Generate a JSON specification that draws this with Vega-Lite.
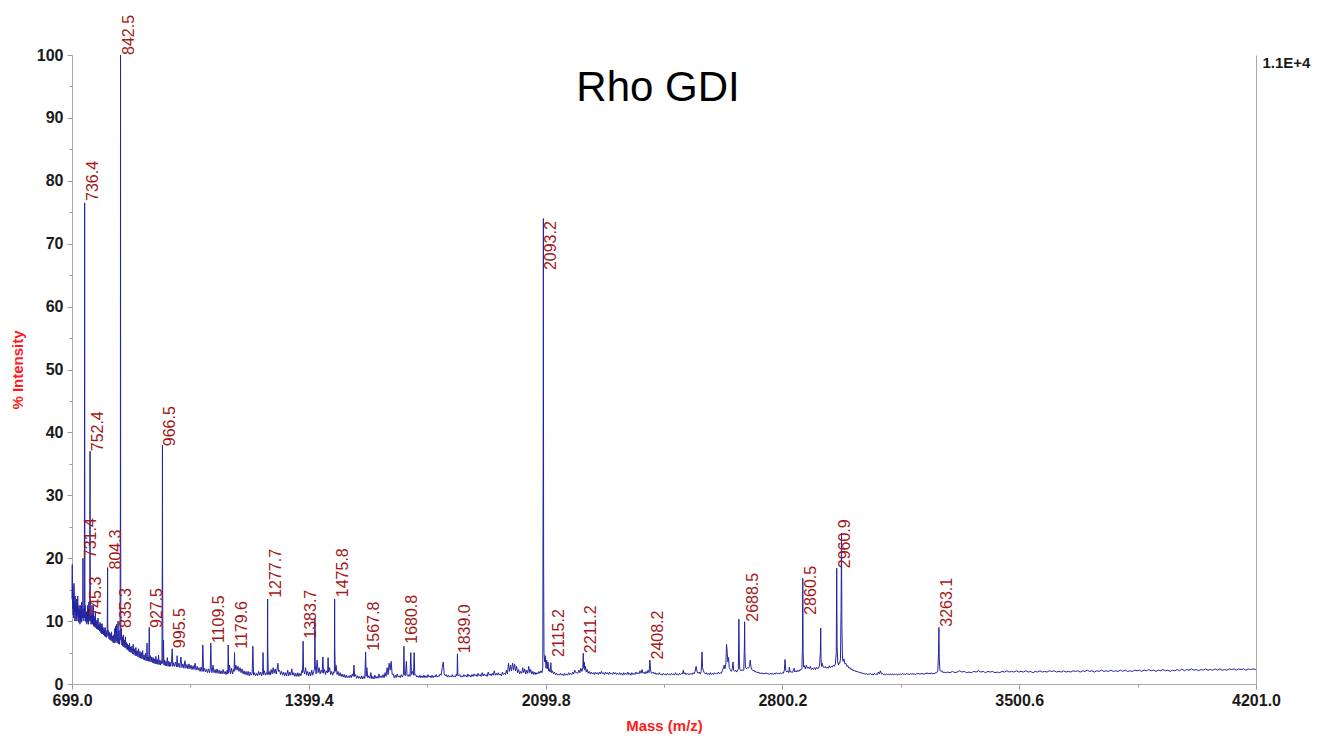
{
"$schema":"https://vega.github.io/schema/vega-lite/v6.json",
"width":1184,"height":629,
"autosize":"none",
"padding":{"left":72,"top":55,"right":77,"bottom":54},
"background":"white",
"config":{"view":{"stroke":null},"font":"Liberation Sans"},
"title":{"text":"Rho GDI","fontSize":42,"fontWeight":"normal","color":"black","font":"Liberation Sans","anchor":"middle","offset":-128,"baseline":"alphabetic","frame":"group","dx":-6},
"datasets":{
"spectrum":[
{"mz":699.0,"pct":13.5},{"mz":699.8,"pct":19},{"mz":700.6,"pct":12},{"mz":701.5,"pct":15.5},{"mz":702.3,"pct":11},{"mz":703.2,"pct":14.5},{"mz":704.0,"pct":10.5},{"mz":705.0,"pct":16},{"mz":705.8,"pct":11.5},{"mz":706.8,"pct":13},{"mz":707.6,"pct":10},{"mz":708.5,"pct":14},{"mz":709.4,"pct":11},{"mz":710.4,"pct":12.5},{"mz":711.3,"pct":10},{"mz":712.2,"pct":13.5},{"mz":713.1,"pct":10.5},{"mz":714.0,"pct":12},{"mz":715.0,"pct":11},{"mz":716.0,"pct":14},{"mz":716.9,"pct":10},{"mz":717.8,"pct":12},{"mz":718.8,"pct":9.8},{"mz":719.7,"pct":12.5},{"mz":720.6,"pct":10.5},{"mz":721.6,"pct":11.8},{"mz":722.5,"pct":9.5},{"mz":723.5,"pct":12.5},{"mz":724.4,"pct":10},{"mz":725.4,"pct":11.5},{"mz":726.3,"pct":9.8},{"mz":727.2,"pct":13},{"mz":728.1,"pct":10},{"mz":729.0,"pct":11},{"mz":730.0,"pct":10.5},{"mz":730.8,"pct":12},{"mz":731.4,"pct":20},{"mz":732.0,"pct":11},{"mz":733.0,"pct":12},{"mz":733.9,"pct":10},{"mz":734.8,"pct":11},{"mz":735.6,"pct":10.5},{"mz":736.0,"pct":46},{"mz":736.4,"pct":76.5},{"mz":736.8,"pct":37},{"mz":737.3,"pct":11},{"mz":738.2,"pct":12.5},{"mz":739.1,"pct":10},{"mz":740.0,"pct":11},{"mz":741.0,"pct":9.8},{"mz":741.9,"pct":11.5},{"mz":742.8,"pct":9.5},{"mz":743.7,"pct":11},{"mz":744.6,"pct":10},{"mz":745.3,"pct":12.5},{"mz":746.0,"pct":9.8},{"mz":747.0,"pct":12},{"mz":747.9,"pct":9.5},{"mz":748.8,"pct":13},{"mz":749.7,"pct":10},{"mz":750.6,"pct":11},{"mz":751.6,"pct":10.5},{"mz":752.0,"pct":26},{"mz":752.4,"pct":37},{"mz":752.8,"pct":20},{"mz":753.4,"pct":10},{"mz":754.3,"pct":11.5},{"mz":755.2,"pct":9.5},{"mz":756.2,"pct":11},{"mz":757.1,"pct":9.8},{"mz":758.0,"pct":12.5},{"mz":759.0,"pct":9.5},{"mz":760.0,"pct":11},{"mz":761.0,"pct":9.5},{"mz":762.0,"pct":12.5},{"mz":763.0,"pct":9.2},{"mz":764.0,"pct":10.8},{"mz":765.0,"pct":9.3},{"mz":766.0,"pct":10.5},{"mz":767.0,"pct":9},{"mz":768.0,"pct":11.5},{"mz":769.0,"pct":9},{"mz":770.0,"pct":10},{"mz":771.5,"pct":8.8},{"mz":773.0,"pct":10.2},{"mz":774.5,"pct":8.7},{"mz":776.0,"pct":10.5},{"mz":777.5,"pct":8.6},{"mz":779.0,"pct":9.5},{"mz":780.5,"pct":8.4},{"mz":782.0,"pct":9.8},{"mz":783.5,"pct":8.2},{"mz":785.0,"pct":9.5},{"mz":786.5,"pct":8},{"mz":788.0,"pct":9.6},{"mz":789.5,"pct":8},{"mz":791.0,"pct":9},{"mz":792.5,"pct":7.8},{"mz":794.0,"pct":8.8},{"mz":795.5,"pct":7.6},{"mz":797.0,"pct":9},{"mz":798.5,"pct":7.5},{"mz":800.0,"pct":8.5},{"mz":801.5,"pct":7.4},{"mz":803.0,"pct":8.2},{"mz":804.0,"pct":14.5},{"mz":804.3,"pct":18.5},{"mz":804.7,"pct":10},{"mz":805.5,"pct":7.6},{"mz":807.0,"pct":8.5},{"mz":808.5,"pct":7.2},{"mz":810.0,"pct":8.2},{"mz":811.5,"pct":7},{"mz":813.0,"pct":8},{"mz":814.5,"pct":6.9},{"mz":816.0,"pct":8.3},{"mz":817.5,"pct":6.8},{"mz":819.0,"pct":7.6},{"mz":820.5,"pct":6.6},{"mz":822.0,"pct":7.8},{"mz":823.5,"pct":6.5},{"mz":825.0,"pct":8.8},{"mz":826.5,"pct":6.6},{"mz":828.0,"pct":9.2},{"mz":829.5,"pct":6.8},{"mz":831.0,"pct":9.5},{"mz":832.5,"pct":6.5},{"mz":834.0,"pct":7.5},{"mz":835.3,"pct":10},{"mz":836.5,"pct":6.4},{"mz":838.0,"pct":8.5},{"mz":839.5,"pct":6.3},{"mz":841.0,"pct":7},{"mz":842.1,"pct":27.5},{"mz":842.5,"pct":100},{"mz":842.9,"pct":27.5},{"mz":843.6,"pct":7},{"mz":845.0,"pct":8.8},{"mz":846.5,"pct":6.2},{"mz":848.0,"pct":7.5},{"mz":849.5,"pct":6},{"mz":851.0,"pct":7.8},{"mz":852.5,"pct":5.9},{"mz":854.0,"pct":7},{"mz":855.5,"pct":5.8},{"mz":857.0,"pct":7.5},{"mz":858.5,"pct":5.7},{"mz":860.0,"pct":6.6},{"mz":861.5,"pct":5.5},{"mz":863.0,"pct":6.4},{"mz":864.5,"pct":5.4},{"mz":866.0,"pct":6.2},{"mz":867.5,"pct":5.2},{"mz":869.0,"pct":6.5},{"mz":870.5,"pct":5.1},{"mz":872.0,"pct":5.9},{"mz":874.0,"pct":5},{"mz":876.0,"pct":6},{"mz":878.0,"pct":4.8},{"mz":880.0,"pct":6.3},{"mz":882.0,"pct":4.7},{"mz":884.0,"pct":5.6},{"mz":886.0,"pct":4.5},{"mz":888.0,"pct":5.8},{"mz":890.0,"pct":4.5},{"mz":892.0,"pct":5.3},{"mz":894.0,"pct":4.3},{"mz":896.0,"pct":5.6},{"mz":898.0,"pct":4.2},{"mz":900.0,"pct":5.2},{"mz":902.0,"pct":4.1},{"mz":904.0,"pct":5},{"mz":906.0,"pct":4},{"mz":908.0,"pct":5.3},{"mz":910.0,"pct":3.9},{"mz":912.0,"pct":4.6},{"mz":914.0,"pct":3.8},{"mz":916.0,"pct":4.9},{"mz":918.0,"pct":3.7},{"mz":920.0,"pct":4.4},{"mz":921.0,"pct":6.5},{"mz":922.0,"pct":3.7},{"mz":924.0,"pct":4.3},{"mz":926.0,"pct":3.6},{"mz":927.5,"pct":9},{"mz":929.0,"pct":3.6},{"mz":931.0,"pct":4.5},{"mz":933.0,"pct":3.5},{"mz":935.0,"pct":4.3},{"mz":937.0,"pct":3.4},{"mz":939.0,"pct":4.2},{"mz":941.0,"pct":3.3},{"mz":943.0,"pct":4},{"mz":945.0,"pct":3.2},{"mz":947.0,"pct":4.4},{"mz":949.0,"pct":3.2},{"mz":951.0,"pct":3.9},{"mz":953.0,"pct":3.1},{"mz":955.0,"pct":4.6},{"mz":957.0,"pct":3.1},{"mz":959.0,"pct":3.8},{"mz":961.0,"pct":3},{"mz":963.0,"pct":3.7},{"mz":965.0,"pct":3.2},{"mz":966.1,"pct":20},{"mz":966.5,"pct":38},{"mz":966.9,"pct":20},{"mz":968.0,"pct":3.3},{"mz":969.5,"pct":7},{"mz":971.0,"pct":3},{"mz":973.0,"pct":3.8},{"mz":975.0,"pct":2.9},{"mz":977.0,"pct":3.6},{"mz":979.0,"pct":2.9},{"mz":981.0,"pct":4.2},{"mz":983.0,"pct":2.8},{"mz":985.0,"pct":3.6},{"mz":987.0,"pct":2.8},{"mz":989.0,"pct":3.5},{"mz":991.0,"pct":2.8},{"mz":993.0,"pct":3.4},{"mz":995.5,"pct":5.6},{"mz":997.0,"pct":2.8},{"mz":999.0,"pct":3.4},{"mz":1002.0,"pct":2.8},{"mz":1005.0,"pct":3.5},{"mz":1008.0,"pct":2.7},{"mz":1010.0,"pct":4.5},{"mz":1012.0,"pct":2.7},{"mz":1015.0,"pct":3.3},{"mz":1018.0,"pct":2.6},{"mz":1021.0,"pct":4.3},{"mz":1024.0,"pct":2.6},{"mz":1027.0,"pct":3.2},{"mz":1030.0,"pct":2.5},{"mz":1033.0,"pct":3.7},{"mz":1036.0,"pct":2.5},{"mz":1039.0,"pct":3.1},{"mz":1042.0,"pct":2.4},{"mz":1045.0,"pct":3.2},{"mz":1048.0,"pct":2.4},{"mz":1051.0,"pct":3},{"mz":1054.0,"pct":2.3},{"mz":1057.0,"pct":2.9},{"mz":1060.0,"pct":2.3},{"mz":1063.0,"pct":3.3},{"mz":1066.0,"pct":2.2},{"mz":1069.0,"pct":2.8},{"mz":1072.0,"pct":2.2},{"mz":1075.0,"pct":2.6},{"mz":1078.0,"pct":2},{"mz":1081.0,"pct":2.7},{"mz":1084.0,"pct":2},{"mz":1086.0,"pct":6.2},{"mz":1088.0,"pct":2},{"mz":1091.0,"pct":2.5},{"mz":1094.0,"pct":1.9},{"mz":1097.0,"pct":2.4},{"mz":1100.0,"pct":1.8},{"mz":1103.0,"pct":2.4},{"mz":1106.0,"pct":1.8},{"mz":1108.0,"pct":2.3},{"mz":1109.5,"pct":6.5},{"mz":1111.0,"pct":2.6},{"mz":1113.0,"pct":1.8},{"mz":1116.0,"pct":3},{"mz":1119.0,"pct":1.8},{"mz":1122.0,"pct":2.3},{"mz":1125.0,"pct":1.7},{"mz":1128.0,"pct":2.4},{"mz":1131.0,"pct":1.7},{"mz":1134.0,"pct":2.2},{"mz":1137.0,"pct":1.6},{"mz":1140.0,"pct":2.1},{"mz":1143.0,"pct":1.6},{"mz":1146.0,"pct":2.3},{"mz":1149.0,"pct":1.6},{"mz":1152.0,"pct":2},{"mz":1155.0,"pct":1.5},{"mz":1158.0,"pct":2.2},{"mz":1160.0,"pct":1.6},{"mz":1161.0,"pct":6.2},{"mz":1162.5,"pct":1.8},{"mz":1165.0,"pct":3},{"mz":1168.0,"pct":1.6},{"mz":1171.0,"pct":2.5},{"mz":1174.0,"pct":1.6},{"mz":1177.0,"pct":2.3},{"mz":1178.5,"pct":2},{"mz":1179.6,"pct":5},{"mz":1181.0,"pct":2.2},{"mz":1184.0,"pct":3},{"mz":1187.0,"pct":2.2},{"mz":1190.0,"pct":2.8},{"mz":1193.0,"pct":2},{"mz":1196.0,"pct":2.6},{"mz":1199.0,"pct":1.8},{"mz":1202.0,"pct":2.4},{"mz":1205.0,"pct":1.6},{"mz":1208.0,"pct":2.1},{"mz":1211.0,"pct":1.5},{"mz":1214.0,"pct":2},{"mz":1217.0,"pct":1.4},{"mz":1220.0,"pct":2},{"mz":1223.0,"pct":1.3},{"mz":1226.0,"pct":1.9},{"mz":1229.0,"pct":1.4},{"mz":1232.0,"pct":1.7},{"mz":1234.0,"pct":6},{"mz":1236.0,"pct":1.4},{"mz":1239.0,"pct":1.8},{"mz":1242.0,"pct":1.3},{"mz":1245.0,"pct":1.7},{"mz":1248.0,"pct":1.3},{"mz":1251.0,"pct":2},{"mz":1254.0,"pct":1.4},{"mz":1257.0,"pct":1.9},{"mz":1260.0,"pct":1.3},{"mz":1263.0,"pct":2},{"mz":1264.0,"pct":5},{"mz":1265.5,"pct":1.5},{"mz":1268.0,"pct":2.1},{"mz":1271.0,"pct":1.4},{"mz":1274.0,"pct":1.8},{"mz":1276.5,"pct":1.5},{"mz":1277.3,"pct":9},{"mz":1277.7,"pct":13.5},{"mz":1278.1,"pct":6},{"mz":1279.5,"pct":1.5},{"mz":1282.0,"pct":2},{"mz":1285.0,"pct":1.4},{"mz":1288.0,"pct":2.3},{"mz":1291.0,"pct":1.6},{"mz":1294.0,"pct":2.6},{"mz":1297.0,"pct":1.7},{"mz":1300.0,"pct":2.4},{"mz":1303.0,"pct":1.6},{"mz":1306.0,"pct":2.5},{"mz":1308.0,"pct":3.3},{"mz":1310.0,"pct":2},{"mz":1313.0,"pct":2.2},{"mz":1316.0,"pct":1.5},{"mz":1319.0,"pct":2},{"mz":1322.0,"pct":1.4},{"mz":1325.0,"pct":1.9},{"mz":1328.0,"pct":1.3},{"mz":1331.0,"pct":1.8},{"mz":1334.0,"pct":1.3},{"mz":1337.0,"pct":2.2},{"mz":1340.0,"pct":1.3},{"mz":1343.0,"pct":1.9},{"mz":1346.0,"pct":1.4},{"mz":1349.0,"pct":2.4},{"mz":1352.0,"pct":1.4},{"mz":1355.0,"pct":1.8},{"mz":1358.0,"pct":1.2},{"mz":1361.0,"pct":1.7},{"mz":1364.0,"pct":1.2},{"mz":1367.0,"pct":1.8},{"mz":1370.0,"pct":1.2},{"mz":1373.0,"pct":1.7},{"mz":1376.0,"pct":1.3},{"mz":1379.0,"pct":2.2},{"mz":1381.0,"pct":1.8},{"mz":1382.5,"pct":6.8},{"mz":1384.0,"pct":2.2},{"mz":1387.0,"pct":1.6},{"mz":1390.0,"pct":2.6},{"mz":1393.0,"pct":1.4},{"mz":1396.0,"pct":2},{"mz":1399.0,"pct":1.3},{"mz":1402.0,"pct":1.9},{"mz":1405.0,"pct":1.3},{"mz":1408.0,"pct":2.2},{"mz":1411.0,"pct":1.4},{"mz":1414.0,"pct":2},{"mz":1416.5,"pct":2.5},{"mz":1417.5,"pct":10.5},{"mz":1418.5,"pct":3},{"mz":1421.0,"pct":1.6},{"mz":1424.0,"pct":3.8},{"mz":1427.0,"pct":1.8},{"mz":1430.0,"pct":2.6},{"mz":1433.0,"pct":1.6},{"mz":1436.0,"pct":2.2},{"mz":1439.0,"pct":1.8},{"mz":1441.0,"pct":4.3},{"mz":1443.0,"pct":1.7},{"mz":1446.0,"pct":2.3},{"mz":1449.0,"pct":1.5},{"mz":1452.0,"pct":2.1},{"mz":1455.0,"pct":1.8},{"mz":1456.5,"pct":4.2},{"mz":1458.0,"pct":1.9},{"mz":1461.0,"pct":2.6},{"mz":1464.0,"pct":1.5},{"mz":1467.0,"pct":2},{"mz":1470.0,"pct":1.4},{"mz":1473.0,"pct":1.9},{"mz":1475.0,"pct":1.8},{"mz":1475.5,"pct":8},{"mz":1475.8,"pct":13.5},{"mz":1476.3,"pct":6},{"mz":1477.5,"pct":2},{"mz":1480.0,"pct":3},{"mz":1483.0,"pct":1.5},{"mz":1486.0,"pct":2},{"mz":1489.0,"pct":1.3},{"mz":1492.0,"pct":1.8},{"mz":1495.0,"pct":1.2},{"mz":1498.0,"pct":1.6},{"mz":1501.0,"pct":1.1},{"mz":1504.0,"pct":1.5},{"mz":1507.0,"pct":1},{"mz":1510.0,"pct":1.4},{"mz":1513.0,"pct":1},{"mz":1516.0,"pct":1.3},{"mz":1519.0,"pct":1},{"mz":1522.0,"pct":1.4},{"mz":1525.0,"pct":1},{"mz":1528.0,"pct":1.6},{"mz":1531.0,"pct":1.2},{"mz":1533.0,"pct":3},{"mz":1535.0,"pct":1.2},{"mz":1538.0,"pct":1.5},{"mz":1541.0,"pct":0.9},{"mz":1544.0,"pct":1.3},{"mz":1547.0,"pct":0.9},{"mz":1550.0,"pct":1.2},{"mz":1553.0,"pct":0.8},{"mz":1556.0,"pct":1.3},{"mz":1559.0,"pct":0.8},{"mz":1562.0,"pct":1.2},{"mz":1565.0,"pct":0.9},{"mz":1567.5,"pct":5.1},{"mz":1569.0,"pct":1.2},{"mz":1571.0,"pct":2.6},{"mz":1574.0,"pct":1},{"mz":1577.0,"pct":1.3},{"mz":1580.0,"pct":0.9},{"mz":1583.0,"pct":1.8},{"mz":1586.0,"pct":0.8},{"mz":1589.0,"pct":1.2},{"mz":1592.0,"pct":0.8},{"mz":1595.0,"pct":1.4},{"mz":1598.0,"pct":0.9},{"mz":1601.0,"pct":1.2},{"mz":1604.0,"pct":0.9},{"mz":1607.0,"pct":1.6},{"mz":1610.0,"pct":1},{"mz":1613.0,"pct":1.3},{"mz":1616.0,"pct":1},{"mz":1619.0,"pct":1.5},{"mz":1622.0,"pct":1},{"mz":1625.0,"pct":1.8},{"mz":1628.0,"pct":1.2},{"mz":1631.0,"pct":2.6},{"mz":1634.0,"pct":1.5},{"mz":1637.0,"pct":3.3},{"mz":1640.0,"pct":2.2},{"mz":1643.0,"pct":3.6},{"mz":1646.0,"pct":1.5},{"mz":1649.0,"pct":1.6},{"mz":1652.0,"pct":1},{"mz":1655.0,"pct":1.4},{"mz":1658.0,"pct":1},{"mz":1661.0,"pct":1.6},{"mz":1664.0,"pct":1.1},{"mz":1667.0,"pct":1.3},{"mz":1670.0,"pct":1},{"mz":1673.0,"pct":1.5},{"mz":1676.0,"pct":1.1},{"mz":1679.5,"pct":1.5},{"mz":1680.8,"pct":6},{"mz":1682.0,"pct":1.5},{"mz":1685.0,"pct":1.3},{"mz":1688.0,"pct":3.6},{"mz":1690.0,"pct":1.4},{"mz":1693.0,"pct":1.2},{"mz":1696.0,"pct":1.5},{"mz":1699.0,"pct":1.2},{"mz":1701.0,"pct":5},{"mz":1703.0,"pct":1.5},{"mz":1706.0,"pct":2},{"mz":1709.0,"pct":1.4},{"mz":1711.0,"pct":5},{"mz":1713.0,"pct":1.4},{"mz":1716.0,"pct":1.5},{"mz":1719.0,"pct":1.1},{"mz":1722.0,"pct":1.3},{"mz":1725.0,"pct":1},{"mz":1728.0,"pct":1.4},{"mz":1731.0,"pct":1},{"mz":1734.0,"pct":1.3},{"mz":1737.0,"pct":1},{"mz":1740.0,"pct":1.4},{"mz":1743.0,"pct":1},{"mz":1746.0,"pct":1.3},{"mz":1749.0,"pct":1},{"mz":1752.0,"pct":1.5},{"mz":1755.0,"pct":1.1},{"mz":1758.0,"pct":1.3},{"mz":1761.0,"pct":1},{"mz":1764.0,"pct":1.4},{"mz":1767.0,"pct":1},{"mz":1770.0,"pct":1.3},{"mz":1773.0,"pct":1.1},{"mz":1776.0,"pct":1.5},{"mz":1779.0,"pct":1.1},{"mz":1782.0,"pct":1.3},{"mz":1785.0,"pct":1.2},{"mz":1788.0,"pct":1.6},{"mz":1791.0,"pct":1.4},{"mz":1794.0,"pct":2.6},{"mz":1797.0,"pct":3.5},{"mz":1800.0,"pct":1.6},{"mz":1803.0,"pct":1.3},{"mz":1806.0,"pct":1.5},{"mz":1809.0,"pct":1.1},{"mz":1812.0,"pct":1.4},{"mz":1815.0,"pct":1.1},{"mz":1818.0,"pct":1.3},{"mz":1821.0,"pct":1.1},{"mz":1824.0,"pct":1.5},{"mz":1827.0,"pct":1.1},{"mz":1830.0,"pct":1.3},{"mz":1833.0,"pct":1.1},{"mz":1836.0,"pct":1.6},{"mz":1838.0,"pct":1.3},{"mz":1839.0,"pct":4.8},{"mz":1840.5,"pct":1.5},{"mz":1843.0,"pct":1.3},{"mz":1846.0,"pct":1.5},{"mz":1849.0,"pct":1.1},{"mz":1852.0,"pct":1.3},{"mz":1855.0,"pct":1.1},{"mz":1858.0,"pct":1.5},{"mz":1861.0,"pct":1.2},{"mz":1864.0,"pct":1.4},{"mz":1867.0,"pct":1.1},{"mz":1870.0,"pct":1.6},{"mz":1873.0,"pct":1.2},{"mz":1876.0,"pct":1.4},{"mz":1879.0,"pct":1.1},{"mz":1882.0,"pct":1.5},{"mz":1885.0,"pct":1.2},{"mz":1888.0,"pct":1.6},{"mz":1891.0,"pct":1.3},{"mz":1894.0,"pct":1.5},{"mz":1897.0,"pct":1.2},{"mz":1900.0,"pct":1.7},{"mz":1903.0,"pct":1.3},{"mz":1906.0,"pct":1.5},{"mz":1909.0,"pct":1.2},{"mz":1912.0,"pct":1.8},{"mz":1915.0,"pct":1.3},{"mz":1918.0,"pct":1.6},{"mz":1921.0,"pct":1.3},{"mz":1924.0,"pct":1.5},{"mz":1927.0,"pct":1.2},{"mz":1930.0,"pct":1.9},{"mz":1933.0,"pct":1.4},{"mz":1936.0,"pct":1.6},{"mz":1939.0,"pct":1.3},{"mz":1942.0,"pct":1.7},{"mz":1945.0,"pct":1.4},{"mz":1948.0,"pct":2.1},{"mz":1951.0,"pct":1.4},{"mz":1954.0,"pct":1.7},{"mz":1957.0,"pct":1.4},{"mz":1960.0,"pct":1.8},{"mz":1963.0,"pct":1.4},{"mz":1966.0,"pct":1.6},{"mz":1969.0,"pct":1.3},{"mz":1972.0,"pct":1.9},{"mz":1975.0,"pct":1.5},{"mz":1978.0,"pct":1.7},{"mz":1981.0,"pct":1.5},{"mz":1984.0,"pct":2.2},{"mz":1987.0,"pct":1.6},{"mz":1990.0,"pct":3.3},{"mz":1993.0,"pct":2},{"mz":1996.0,"pct":3},{"mz":1999.0,"pct":2.1},{"mz":2002.0,"pct":3.3},{"mz":2005.0,"pct":2.2},{"mz":2008.0,"pct":3.2},{"mz":2011.0,"pct":2.1},{"mz":2014.0,"pct":2.8},{"mz":2017.0,"pct":1.8},{"mz":2020.0,"pct":2.3},{"mz":2023.0,"pct":1.6},{"mz":2026.0,"pct":2},{"mz":2029.0,"pct":1.7},{"mz":2032.0,"pct":2.6},{"mz":2035.0,"pct":1.8},{"mz":2038.0,"pct":2.4},{"mz":2041.0,"pct":1.6},{"mz":2044.0,"pct":2.2},{"mz":2047.0,"pct":1.7},{"mz":2050.0,"pct":2.8},{"mz":2053.0,"pct":1.8},{"mz":2056.0,"pct":2.3},{"mz":2059.0,"pct":1.6},{"mz":2062.0,"pct":2},{"mz":2065.0,"pct":1.5},{"mz":2068.0,"pct":1.9},{"mz":2071.0,"pct":1.5},{"mz":2074.0,"pct":1.8},{"mz":2077.0,"pct":1.6},{"mz":2080.0,"pct":2},{"mz":2083.0,"pct":1.7},{"mz":2086.0,"pct":2.1},{"mz":2089.0,"pct":1.8},{"mz":2091.5,"pct":2.5},{"mz":2092.5,"pct":36},{"mz":2093.2,"pct":74},{"mz":2093.9,"pct":20},{"mz":2095.0,"pct":5},{"mz":2097.0,"pct":3.5},{"mz":2099.0,"pct":4.5},{"mz":2101.0,"pct":2.5},{"mz":2103.0,"pct":3.8},{"mz":2105.0,"pct":2.4},{"mz":2107.0,"pct":3.5},{"mz":2109.0,"pct":2.1},{"mz":2111.0,"pct":2.4},{"mz":2113.0,"pct":1.9},{"mz":2115.2,"pct":3.4},{"mz":2117.0,"pct":1.8},{"mz":2120.0,"pct":2.1},{"mz":2123.0,"pct":1.6},{"mz":2126.0,"pct":1.9},{"mz":2129.0,"pct":1.5},{"mz":2132.0,"pct":1.7},{"mz":2135.0,"pct":1.4},{"mz":2138.0,"pct":1.6},{"mz":2141.0,"pct":1.4},{"mz":2144.0,"pct":1.7},{"mz":2147.0,"pct":1.4},{"mz":2150.0,"pct":1.6},{"mz":2153.0,"pct":1.3},{"mz":2156.0,"pct":1.7},{"mz":2159.0,"pct":1.4},{"mz":2162.0,"pct":1.6},{"mz":2165.0,"pct":1.4},{"mz":2168.0,"pct":1.8},{"mz":2171.0,"pct":1.5},{"mz":2174.0,"pct":1.7},{"mz":2177.0,"pct":1.5},{"mz":2180.0,"pct":1.9},{"mz":2183.0,"pct":1.6},{"mz":2186.0,"pct":2.2},{"mz":2189.0,"pct":1.8},{"mz":2192.0,"pct":1.8},{"mz":2195.0,"pct":1.7},{"mz":2198.0,"pct":2.2},{"mz":2201.0,"pct":1.8},{"mz":2204.0,"pct":2.5},{"mz":2207.0,"pct":2},{"mz":2210.0,"pct":2.6},{"mz":2211.2,"pct":4.9},{"mz":2212.5,"pct":2.5},{"mz":2214.0,"pct":3.5},{"mz":2216.0,"pct":2.2},{"mz":2218.0,"pct":2.8},{"mz":2220.0,"pct":1.9},{"mz":2223.0,"pct":2.3},{"mz":2226.0,"pct":1.7},{"mz":2229.0,"pct":2},{"mz":2232.0,"pct":1.6},{"mz":2235.0,"pct":1.9},{"mz":2238.0,"pct":1.6},{"mz":2241.0,"pct":1.8},{"mz":2244.0,"pct":1.5},{"mz":2247.0,"pct":1.9},{"mz":2250.0,"pct":1.6},{"mz":2253.0,"pct":1.8},{"mz":2256.0,"pct":1.5},{"mz":2259.0,"pct":1.9},{"mz":2262.0,"pct":1.6},{"mz":2265.0,"pct":2},{"mz":2268.0,"pct":1.6},{"mz":2271.0,"pct":1.8},{"mz":2274.0,"pct":1.5},{"mz":2277.0,"pct":1.9},{"mz":2280.0,"pct":1.6},{"mz":2283.0,"pct":1.8},{"mz":2286.0,"pct":1.5},{"mz":2289.0,"pct":1.9},{"mz":2292.0,"pct":1.6},{"mz":2295.0,"pct":1.7},{"mz":2298.0,"pct":1.5},{"mz":2301.0,"pct":1.9},{"mz":2304.0,"pct":1.6},{"mz":2307.0,"pct":1.8},{"mz":2310.0,"pct":1.5},{"mz":2313.0,"pct":1.7},{"mz":2316.0,"pct":1.5},{"mz":2319.0,"pct":1.8},{"mz":2322.0,"pct":1.5},{"mz":2325.0,"pct":1.7},{"mz":2328.0,"pct":1.4},{"mz":2331.0,"pct":1.8},{"mz":2334.0,"pct":1.5},{"mz":2337.0,"pct":1.7},{"mz":2340.0,"pct":1.5},{"mz":2343.0,"pct":1.9},{"mz":2346.0,"pct":1.5},{"mz":2349.0,"pct":1.7},{"mz":2352.0,"pct":1.4},{"mz":2355.0,"pct":1.8},{"mz":2358.0,"pct":1.5},{"mz":2361.0,"pct":1.7},{"mz":2364.0,"pct":1.5},{"mz":2367.0,"pct":1.9},{"mz":2370.0,"pct":1.6},{"mz":2373.0,"pct":1.8},{"mz":2376.0,"pct":1.6},{"mz":2379.0,"pct":2.1},{"mz":2382.0,"pct":1.7},{"mz":2385.0,"pct":2.3},{"mz":2388.0,"pct":1.7},{"mz":2391.0,"pct":1.9},{"mz":2394.0,"pct":1.6},{"mz":2397.0,"pct":2},{"mz":2400.0,"pct":1.7},{"mz":2403.0,"pct":2.2},{"mz":2406.0,"pct":1.8},{"mz":2408.2,"pct":3.8},{"mz":2410.0,"pct":2.4},{"mz":2412.0,"pct":1.8},{"mz":2415.0,"pct":1.7},{"mz":2418.0,"pct":1.9},{"mz":2421.0,"pct":1.6},{"mz":2424.0,"pct":1.8},{"mz":2427.0,"pct":1.5},{"mz":2430.0,"pct":1.7},{"mz":2433.0,"pct":1.5},{"mz":2436.0,"pct":1.8},{"mz":2439.0,"pct":1.5},{"mz":2442.0,"pct":1.6},{"mz":2445.0,"pct":1.4},{"mz":2448.0,"pct":1.7},{"mz":2451.0,"pct":1.5},{"mz":2454.0,"pct":1.6},{"mz":2457.0,"pct":1.4},{"mz":2460.0,"pct":1.7},{"mz":2463.0,"pct":1.5},{"mz":2466.0,"pct":1.6},{"mz":2469.0,"pct":1.4},{"mz":2472.0,"pct":1.7},{"mz":2475.0,"pct":1.5},{"mz":2478.0,"pct":1.6},{"mz":2481.0,"pct":1.4},{"mz":2484.0,"pct":1.8},{"mz":2487.0,"pct":1.5},{"mz":2490.0,"pct":1.6},{"mz":2493.0,"pct":1.4},{"mz":2496.0,"pct":1.7},{"mz":2499.0,"pct":1.5},{"mz":2502.0,"pct":1.7},{"mz":2505.0,"pct":1.6},{"mz":2507.0,"pct":2.2},{"mz":2509.0,"pct":1.6},{"mz":2512.0,"pct":1.8},{"mz":2515.0,"pct":1.5},{"mz":2518.0,"pct":1.7},{"mz":2521.0,"pct":1.5},{"mz":2524.0,"pct":1.6},{"mz":2527.0,"pct":1.5},{"mz":2530.0,"pct":1.7},{"mz":2533.0,"pct":1.5},{"mz":2536.0,"pct":1.8},{"mz":2539.0,"pct":1.6},{"mz":2542.0,"pct":2},{"mz":2545.0,"pct":2.8},{"mz":2548.0,"pct":1.9},{"mz":2551.0,"pct":1.7},{"mz":2554.0,"pct":1.9},{"mz":2557.0,"pct":1.6},{"mz":2560.0,"pct":2},{"mz":2562.5,"pct":5.1},{"mz":2564.0,"pct":2.6},{"mz":2566.0,"pct":2.2},{"mz":2569.0,"pct":1.8},{"mz":2572.0,"pct":1.6},{"mz":2575.0,"pct":1.8},{"mz":2578.0,"pct":1.5},{"mz":2581.0,"pct":1.7},{"mz":2584.0,"pct":1.5},{"mz":2587.0,"pct":1.8},{"mz":2590.0,"pct":1.5},{"mz":2593.0,"pct":1.7},{"mz":2596.0,"pct":1.5},{"mz":2599.0,"pct":1.8},{"mz":2602.0,"pct":1.6},{"mz":2605.0,"pct":1.7},{"mz":2608.0,"pct":1.6},{"mz":2611.0,"pct":1.9},{"mz":2614.0,"pct":1.6},{"mz":2617.0,"pct":1.8},{"mz":2620.0,"pct":1.7},{"mz":2623.0,"pct":2.2},{"mz":2626.0,"pct":2.6},{"mz":2628.0,"pct":3},{"mz":2630.0,"pct":2.4},{"mz":2633.0,"pct":3.2},{"mz":2635.0,"pct":6.3},{"mz":2637.0,"pct":5},{"mz":2639.0,"pct":3.5},{"mz":2641.0,"pct":4.2},{"mz":2643.0,"pct":2.6},{"mz":2646.0,"pct":2.3},{"mz":2649.0,"pct":2},{"mz":2652.0,"pct":2.4},{"mz":2654.0,"pct":3.5},{"mz":2656.0,"pct":2.2},{"mz":2659.0,"pct":2},{"mz":2662.0,"pct":2.2},{"mz":2665.0,"pct":1.9},{"mz":2668.0,"pct":2.2},{"mz":2670.0,"pct":2.4},{"mz":2671.5,"pct":10.3},{"mz":2673.0,"pct":3},{"mz":2675.0,"pct":2.3},{"mz":2678.0,"pct":2.1},{"mz":2681.0,"pct":2.3},{"mz":2684.0,"pct":2.1},{"mz":2686.0,"pct":2.3},{"mz":2687.8,"pct":6},{"mz":2688.5,"pct":9.9},{"mz":2689.3,"pct":5},{"mz":2691.0,"pct":2.6},{"mz":2694.0,"pct":2.4},{"mz":2697.0,"pct":2.6},{"mz":2700.0,"pct":2.5},{"mz":2703.0,"pct":2.8},{"mz":2705.0,"pct":3.8},{"mz":2707.0,"pct":2.8},{"mz":2710.0,"pct":2.3},{"mz":2713.0,"pct":2.1},{"mz":2716.0,"pct":2.2},{"mz":2719.0,"pct":1.9},{"mz":2722.0,"pct":2},{"mz":2725.0,"pct":1.8},{"mz":2728.0,"pct":1.9},{"mz":2731.0,"pct":1.7},{"mz":2734.0,"pct":1.8},{"mz":2737.0,"pct":1.6},{"mz":2740.0,"pct":1.8},{"mz":2743.0,"pct":1.6},{"mz":2746.0,"pct":1.7},{"mz":2749.0,"pct":1.6},{"mz":2752.0,"pct":1.8},{"mz":2755.0,"pct":1.6},{"mz":2758.0,"pct":1.7},{"mz":2761.0,"pct":1.5},{"mz":2764.0,"pct":1.7},{"mz":2767.0,"pct":1.6},{"mz":2770.0,"pct":1.7},{"mz":2773.0,"pct":1.5},{"mz":2776.0,"pct":1.7},{"mz":2779.0,"pct":1.6},{"mz":2782.0,"pct":1.8},{"mz":2785.0,"pct":1.6},{"mz":2788.0,"pct":1.7},{"mz":2791.0,"pct":1.6},{"mz":2794.0,"pct":1.8},{"mz":2797.0,"pct":1.6},{"mz":2800.0,"pct":1.8},{"mz":2803.0,"pct":1.7},{"mz":2806.0,"pct":2.2},{"mz":2808.0,"pct":3.9},{"mz":2810.0,"pct":2.2},{"mz":2813.0,"pct":1.9},{"mz":2816.0,"pct":2.1},{"mz":2819.0,"pct":1.8},{"mz":2821.0,"pct":2.7},{"mz":2823.0,"pct":1.9},{"mz":2826.0,"pct":2},{"mz":2829.0,"pct":1.8},{"mz":2832.0,"pct":2.1},{"mz":2835.0,"pct":2.5},{"mz":2837.0,"pct":1.9},{"mz":2840.0,"pct":2.1},{"mz":2843.0,"pct":1.9},{"mz":2846.0,"pct":2.2},{"mz":2849.0,"pct":2},{"mz":2852.0,"pct":2.3},{"mz":2855.0,"pct":2.2},{"mz":2858.0,"pct":2.5},{"mz":2859.5,"pct":6},{"mz":2860.5,"pct":16.8},{"mz":2861.5,"pct":5},{"mz":2863.0,"pct":2.7},{"mz":2865.0,"pct":2.9},{"mz":2868.0,"pct":2.4},{"mz":2871.0,"pct":3},{"mz":2874.0,"pct":2.5},{"mz":2877.0,"pct":2.7},{"mz":2880.0,"pct":2.4},{"mz":2883.0,"pct":2.8},{"mz":2886.0,"pct":2.3},{"mz":2889.0,"pct":2.5},{"mz":2892.0,"pct":2.3},{"mz":2895.0,"pct":2.6},{"mz":2898.0,"pct":2.3},{"mz":2901.0,"pct":2.7},{"mz":2904.0,"pct":2.4},{"mz":2907.0,"pct":2.5},{"mz":2910.0,"pct":2.9},{"mz":2912.5,"pct":5},{"mz":2913.5,"pct":8.9},{"mz":2914.5,"pct":4},{"mz":2916.0,"pct":2.8},{"mz":2918.0,"pct":3.3},{"mz":2921.0,"pct":2.7},{"mz":2924.0,"pct":2.6},{"mz":2927.0,"pct":2.8},{"mz":2930.0,"pct":2.5},{"mz":2933.0,"pct":2.7},{"mz":2936.0,"pct":2.5},{"mz":2939.0,"pct":2.9},{"mz":2942.0,"pct":2.6},{"mz":2945.0,"pct":2.8},{"mz":2948.0,"pct":2.7},{"mz":2951.0,"pct":3},{"mz":2954.0,"pct":2.8},{"mz":2957.0,"pct":3.2},{"mz":2959.5,"pct":5},{"mz":2960.9,"pct":18.4},{"mz":2962.0,"pct":6},{"mz":2964.0,"pct":3.5},{"mz":2966.0,"pct":3},{"mz":2968.0,"pct":3.4},{"mz":2970.0,"pct":3.3},{"mz":2972.0,"pct":4},{"mz":2973.8,"pct":12},{"mz":2975.0,"pct":24},{"mz":2976.2,"pct":9},{"mz":2978.0,"pct":4},{"mz":2980.0,"pct":3.6},{"mz":2982.0,"pct":4},{"mz":2985.0,"pct":3.2},{"mz":2988.0,"pct":3.3},{"mz":2991.0,"pct":2.8},{"mz":2994.0,"pct":2.9},{"mz":2997.0,"pct":2.5},{"mz":3000.0,"pct":2.6},{"mz":3003.0,"pct":2.3},{"mz":3006.0,"pct":2.4},{"mz":3009.0,"pct":2.1},{"mz":3012.0,"pct":2.2},{"mz":3015.0,"pct":2},{"mz":3018.0,"pct":2.1},{"mz":3021.0,"pct":1.9},{"mz":3024.0,"pct":2},{"mz":3027.0,"pct":1.8},{"mz":3030.0,"pct":1.9},{"mz":3033.0,"pct":1.7},{"mz":3036.0,"pct":1.8},{"mz":3039.0,"pct":1.6},{"mz":3042.0,"pct":1.7},{"mz":3045.0,"pct":1.5},{"mz":3048.0,"pct":1.7},{"mz":3051.0,"pct":1.5},{"mz":3054.0,"pct":1.6},{"mz":3057.0,"pct":1.5},{"mz":3060.0,"pct":1.7},{"mz":3063.0,"pct":1.5},{"mz":3066.0,"pct":1.6},{"mz":3069.0,"pct":1.4},{"mz":3072.0,"pct":1.7},{"mz":3075.0,"pct":1.5},{"mz":3078.0,"pct":1.6},{"mz":3081.0,"pct":1.5},{"mz":3084.0,"pct":1.9},{"mz":3087.0,"pct":1.6},{"mz":3090.0,"pct":2.1},{"mz":3093.0,"pct":1.6},{"mz":3096.0,"pct":1.7},{"mz":3099.0,"pct":1.5},{"mz":3102.0,"pct":1.6},{"mz":3105.0,"pct":1.4},{"mz":3108.0,"pct":1.6},{"mz":3111.0,"pct":1.5},{"mz":3114.0,"pct":1.6},{"mz":3117.0,"pct":1.4},{"mz":3120.0,"pct":1.6},{"mz":3123.0,"pct":1.5},{"mz":3126.0,"pct":1.6},{"mz":3129.0,"pct":1.4},{"mz":3132.0,"pct":1.6},{"mz":3135.0,"pct":1.5},{"mz":3138.0,"pct":1.6},{"mz":3141.0,"pct":1.4},{"mz":3144.0,"pct":1.6},{"mz":3147.0,"pct":1.5},{"mz":3150.0,"pct":1.6},{"mz":3153.0,"pct":1.5},{"mz":3156.0,"pct":1.7},{"mz":3159.0,"pct":1.5},{"mz":3162.0,"pct":1.6},{"mz":3165.0,"pct":1.5},{"mz":3168.0,"pct":1.7},{"mz":3171.0,"pct":1.5},{"mz":3174.0,"pct":1.6},{"mz":3177.0,"pct":1.5},{"mz":3180.0,"pct":1.7},{"mz":3183.0,"pct":1.5},{"mz":3186.0,"pct":1.7},{"mz":3189.0,"pct":1.5},{"mz":3192.0,"pct":1.6},{"mz":3195.0,"pct":1.5},{"mz":3198.0,"pct":1.7},{"mz":3201.0,"pct":1.6},{"mz":3204.0,"pct":1.7},{"mz":3207.0,"pct":1.5},{"mz":3210.0,"pct":1.7},{"mz":3213.0,"pct":1.6},{"mz":3216.0,"pct":1.7},{"mz":3219.0,"pct":1.5},{"mz":3222.0,"pct":1.7},{"mz":3225.0,"pct":1.6},{"mz":3228.0,"pct":1.8},{"mz":3231.0,"pct":1.6},{"mz":3234.0,"pct":1.7},{"mz":3237.0,"pct":1.6},{"mz":3240.0,"pct":1.8},{"mz":3243.0,"pct":1.6},{"mz":3246.0,"pct":1.7},{"mz":3249.0,"pct":1.6},{"mz":3252.0,"pct":1.8},{"mz":3255.0,"pct":1.7},{"mz":3258.0,"pct":1.9},{"mz":3260.0,"pct":2.2},{"mz":3262.0,"pct":5},{"mz":3263.1,"pct":9},{"mz":3264.3,"pct":4},{"mz":3266.0,"pct":2.2},{"mz":3269.0,"pct":2},{"mz":3272.0,"pct":2.1},{"mz":3275.0,"pct":1.8},{"mz":3278.0,"pct":1.9},{"mz":3282.0,"pct":1.8},{"mz":3289.0,"pct":1.9},{"mz":3296.0,"pct":1.8},{"mz":3303.0,"pct":2.0},{"mz":3310.0,"pct":1.8},{"mz":3317.0,"pct":1.9},{"mz":3324.0,"pct":2.1},{"mz":3331.0,"pct":1.9},{"mz":3338.0,"pct":2.0},{"mz":3345.0,"pct":1.8},{"mz":3352.0,"pct":1.9},{"mz":3359.0,"pct":1.8},{"mz":3366.0,"pct":2.0},{"mz":3373.0,"pct":1.9},{"mz":3380.0,"pct":2.1},{"mz":3387.0,"pct":1.9},{"mz":3394.0,"pct":2.0},{"mz":3401.0,"pct":1.8},{"mz":3408.0,"pct":2.0},{"mz":3415.0,"pct":1.9},{"mz":3422.0,"pct":2.0},{"mz":3429.0,"pct":1.8},{"mz":3436.0,"pct":1.9},{"mz":3443.0,"pct":1.8},{"mz":3450.0,"pct":2.0},{"mz":3457.0,"pct":1.9},{"mz":3464.0,"pct":2.1},{"mz":3471.0,"pct":1.9},{"mz":3478.0,"pct":2.0},{"mz":3485.0,"pct":1.9},{"mz":3492.0,"pct":2.1},{"mz":3499.0,"pct":1.9},{"mz":3506.0,"pct":2.0},{"mz":3513.0,"pct":1.9},{"mz":3520.0,"pct":2.1},{"mz":3527.0,"pct":1.9},{"mz":3534.0,"pct":2.0},{"mz":3541.0,"pct":1.8},{"mz":3548.0,"pct":2.0},{"mz":3555.0,"pct":1.9},{"mz":3562.0,"pct":2.1},{"mz":3569.0,"pct":1.9},{"mz":3576.0,"pct":2.0},{"mz":3583.0,"pct":1.9},{"mz":3590.0,"pct":2.1},{"mz":3597.0,"pct":2.0},{"mz":3604.0,"pct":2.1},{"mz":3611.0,"pct":1.9},{"mz":3618.0,"pct":2.0},{"mz":3625.0,"pct":1.9},{"mz":3632.0,"pct":2.1},{"mz":3639.0,"pct":1.9},{"mz":3646.0,"pct":2.0},{"mz":3653.0,"pct":1.9},{"mz":3660.0,"pct":2.1},{"mz":3667.0,"pct":2.0},{"mz":3674.0,"pct":2.1},{"mz":3681.0,"pct":1.9},{"mz":3688.0,"pct":2.1},{"mz":3695.0,"pct":2.0},{"mz":3702.0,"pct":2.2},{"mz":3709.0,"pct":2.0},{"mz":3716.0,"pct":2.1},{"mz":3723.0,"pct":1.9},{"mz":3730.0,"pct":2.1},{"mz":3737.0,"pct":2.0},{"mz":3744.0,"pct":2.2},{"mz":3751.0,"pct":2.0},{"mz":3758.0,"pct":2.1},{"mz":3765.0,"pct":2.0},{"mz":3772.0,"pct":2.2},{"mz":3779.0,"pct":2.0},{"mz":3786.0,"pct":2.1},{"mz":3793.0,"pct":2.0},{"mz":3800.0,"pct":2.2},{"mz":3807.0,"pct":2.0},{"mz":3814.0,"pct":2.2},{"mz":3821.0,"pct":2.0},{"mz":3828.0,"pct":2.1},{"mz":3835.0,"pct":2.0},{"mz":3842.0,"pct":2.2},{"mz":3849.0,"pct":2.1},{"mz":3856.0,"pct":2.2},{"mz":3863.0,"pct":2.0},{"mz":3870.0,"pct":2.2},{"mz":3877.0,"pct":2.1},{"mz":3884.0,"pct":2.3},{"mz":3891.0,"pct":2.1},{"mz":3898.0,"pct":2.2},{"mz":3905.0,"pct":2.0},{"mz":3912.0,"pct":2.2},{"mz":3919.0,"pct":2.1},{"mz":3926.0,"pct":2.3},{"mz":3933.0,"pct":2.1},{"mz":3940.0,"pct":2.2},{"mz":3947.0,"pct":2.0},{"mz":3954.0,"pct":2.2},{"mz":3961.0,"pct":2.1},{"mz":3968.0,"pct":2.3},{"mz":3975.0,"pct":2.1},{"mz":3982.0,"pct":2.4},{"mz":3989.0,"pct":2.1},{"mz":3996.0,"pct":2.3},{"mz":4003.0,"pct":2.2},{"mz":4010.0,"pct":2.4},{"mz":4017.0,"pct":2.2},{"mz":4024.0,"pct":2.3},{"mz":4031.0,"pct":2.1},{"mz":4038.0,"pct":2.3},{"mz":4045.0,"pct":2.2},{"mz":4052.0,"pct":2.4},{"mz":4059.0,"pct":2.2},{"mz":4066.0,"pct":2.3},{"mz":4073.0,"pct":2.2},{"mz":4080.0,"pct":2.4},{"mz":4087.0,"pct":2.2},{"mz":4094.0,"pct":2.4},{"mz":4101.0,"pct":2.2},{"mz":4108.0,"pct":2.3},{"mz":4115.0,"pct":2.2},{"mz":4122.0,"pct":2.4},{"mz":4129.0,"pct":2.3},{"mz":4136.0,"pct":2.4},{"mz":4143.0,"pct":2.2},{"mz":4150.0,"pct":2.4},{"mz":4157.0,"pct":2.3},{"mz":4164.0,"pct":2.4},{"mz":4171.0,"pct":2.2},{"mz":4178.0,"pct":2.4},{"mz":4185.0,"pct":2.3},{"mz":4192.0,"pct":2.4},{"mz":4199.0,"pct":2.3},{"mz":4201.0,"pct":2.4}
],
"peaks":[
{"mz":731.4,"pct":20,"label":"731.4"},{"mz":736.4,"pct":76.8,"label":"736.4"},{"mz":745.3,"pct":10.7,"label":"745.3"},{"mz":752.4,"pct":37,"label":"752.4"},{"mz":804.3,"pct":18.2,"label":"804.3"},{"mz":835.3,"pct":8.9,"label":"835.3"},{"mz":842.5,"pct":100,"label":"842.5"},{"mz":927.5,"pct":8.9,"label":"927.5"},{"mz":966.5,"pct":37.8,"label":"966.5"},{"mz":995.5,"pct":5.7,"label":"995.5"},{"mz":1109.5,"pct":6.5,"label":"1109.5"},{"mz":1179.6,"pct":5.6,"label":"1179.6"},{"mz":1277.7,"pct":13.7,"label":"1277.7"},{"mz":1383.7,"pct":7.2,"label":"1383.7"},{"mz":1475.8,"pct":13.8,"label":"1475.8"},{"mz":1567.8,"pct":5.3,"label":"1567.8"},{"mz":1680.8,"pct":6.4,"label":"1680.8"},{"mz":1839.0,"pct":4.9,"label":"1839.0"},{"mz":2093.2,"pct":65.8,"label":"2093.2"},{"mz":2115.2,"pct":4.3,"label":"2115.2"},{"mz":2211.2,"pct":4.9,"label":"2211.2"},{"mz":2408.2,"pct":3.9,"label":"2408.2"},{"mz":2688.5,"pct":9.9,"label":"2688.5"},{"mz":2860.5,"pct":11,"label":"2860.5"},{"mz":2960.9,"pct":18.4,"label":"2960.9"},{"mz":3263.1,"pct":9.1,"label":"3263.1"}
]
},
"layer":[
{"data":{"name":"spectrum"},
 "mark":{"type":"line","color":"#2424a0","strokeWidth":1},
 "encoding":{
  "x":{"field":"mz","type":"quantitative","scale":{"domain":[699,4201],"nice":false,"zero":false},
   "axis":{"values":[699,1049.2,1399.4,1749.6,2099.8,2450,2800.2,3150.4,3500.6,3850.8,4201],
    "labelExpr":"indexof([699,1399.4,2099.8,2800.2,3500.6,4201], datum.value) >= 0 ? format(datum.value, '.1f') : ''",
    "labelOverlap":false,"labelFlush":false,"labelBound":false,
    "labelFont":"Liberation Sans","labelFontSize":16,"labelFontWeight":"bold","labelColor":"#1a1a1a","labelPadding":3,
    "tickSize":{"condition":{"test":"indexof([699,1399.4,2099.8,2800.2,3500.6,4201], datum.value) >= 0","value":5},"value":3},
    "tickColor":"#999999","domainColor":"#aaaaaa","grid":false,
    "title":"Mass (m/z)","titleColor":"#ff1a1a","titleFont":"Liberation Sans","titleFontSize":15,"titleFontWeight":"bold","titlePadding":10}},
  "y":{"field":"pct","type":"quantitative","scale":{"domain":[0,100],"nice":false,"zero":true},
   "axis":{"orient":"left","values":[0,5,10,15,20,25,30,35,40,45,50,55,60,65,70,75,80,85,90,95,100],
    "labelExpr":"datum.value % 10 === 0 ? datum.label : ''",
    "labelOverlap":false,"labelFont":"Liberation Sans","labelFontSize":16,"labelFontWeight":"bold","labelColor":"#1a1a1a","labelPadding":4,
    "tickSize":{"condition":{"test":"datum.value % 10 === 0","value":5},"value":3},
    "tickColor":"#999999","domainColor":"#aaaaaa","grid":false,
    "title":"% Intensity","titleColor":"#ff1a1a","titleFont":"Liberation Sans","titleFontSize":15,"titleFontWeight":"bold","titlePadding":11}}
 }},
{"data":{"name":"peaks"},
 "mark":{"type":"text","angle":-90,"align":"left","baseline":"top","font":"Liberation Sans","fontSize":16,"color":"#a31818"},
 "encoding":{
  "x":{"field":"mz","type":"quantitative"},
  "y":{"field":"pct","type":"quantitative",
   "axis":{"orient":"right","values":[100],"labelExpr":"'1.1E+4'","ticks":false,"title":null,"grid":false,
    "domainColor":"#aaaaaa","labelFont":"Liberation Sans","labelFontSize":15,"labelFontWeight":"bold","labelColor":"#1a1a1a","labelBaseline":"top","labelPadding":6}},
  "text":{"field":"label","type":"nominal"}
 }}
],
"resolve":{"axis":{"y":"independent"}}
}
